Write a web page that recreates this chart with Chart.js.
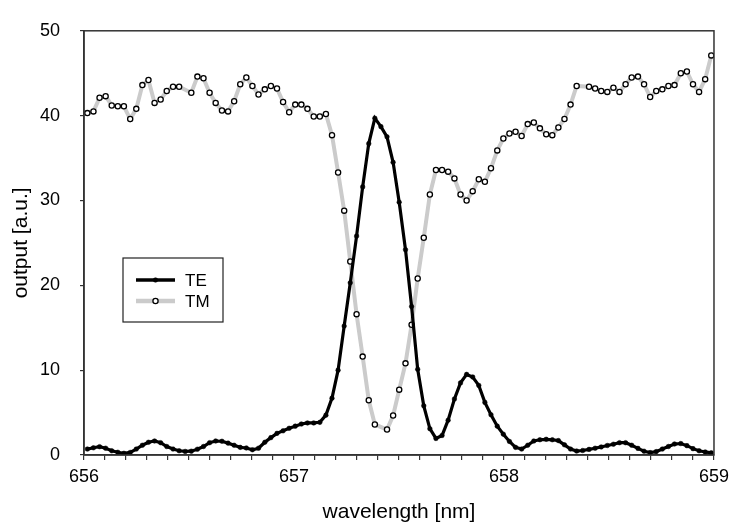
<!DOCTYPE html>
<html>
<head>
<meta charset="utf-8">
<script src="https://cdn.jsdelivr.net/npm/chart.js@4.4.0/dist/chart.umd.min.js"></script>
<style>
  html, body { margin: 0; padding: 0; background: #fff; }
  #wrap { width: 735px; height: 526px; }
</style>
</head>
<body>
<div id="wrap"><canvas id="spectrum" width="735" height="526"></canvas></div>
<script>
// wavelength samples [nm], shared by both polarisations
const wavelength = [
  656.016, 656.045, 656.074, 656.103, 656.132, 656.161, 656.190, 656.220, 656.249, 656.278,
  656.307, 656.336, 656.365, 656.394, 656.424, 656.453, 656.482, 656.511, 656.540, 656.569,
  656.598, 656.627, 656.657, 656.686, 656.715, 656.744, 656.773, 656.802, 656.831, 656.861,
  656.890, 656.919, 656.948, 656.977, 657.006, 657.035, 657.064, 657.094, 657.123, 657.152,
  657.181, 657.210, 657.239, 657.268, 657.298, 657.327, 657.356, 657.385, 657.414, 657.443,
  657.472, 657.501, 657.531, 657.560, 657.589, 657.618, 657.647, 657.676, 657.705, 657.734,
  657.764, 657.793, 657.822, 657.851, 657.880, 657.909, 657.938, 657.968, 657.997, 658.026,
  658.055, 658.084, 658.113, 658.142, 658.171, 658.201, 658.230, 658.259, 658.288, 658.317,
  658.346, 658.375, 658.405, 658.434, 658.463, 658.492, 658.521, 658.550, 658.579, 658.608,
  658.638, 658.667, 658.696, 658.725, 658.754, 658.783, 658.812, 658.842, 658.871, 658.900,
  658.929, 658.958, 658.987
];

// output [a.u.]
const teOutput = [
  0.7, 0.85, 0.98, 0.8, 0.5, 0.32, 0.2, 0.3, 0.7, 1.15,
  1.5, 1.65, 1.45, 1.0, 0.7, 0.5, 0.42, 0.45, 0.68, 1.0,
  1.45, 1.65, 1.62, 1.4, 1.15, 0.9, 0.83, 0.62, 0.8, 1.5,
  2.05, 2.55, 2.85, 3.15, 3.4, 3.65, 3.78, 3.78, 3.85, 4.7,
  6.7, 10.0, 15.2, 20.3, 25.8, 31.6, 36.7, 39.7, 38.7, 37.5,
  34.5, 29.8, 24.2, 17.5, 10.1, 5.8, 3.1, 1.95, 2.3, 4.1,
  6.6, 8.5, 9.5, 9.2, 8.2, 6.2, 4.75, 3.4, 2.45, 1.6,
  0.9, 0.7, 1.15, 1.65, 1.8, 1.85, 1.8, 1.7, 1.2, 0.7,
  0.47, 0.53, 0.66, 0.8, 0.95, 1.12, 1.27, 1.45, 1.45, 1.15,
  0.78, 0.45, 0.28, 0.4, 0.7, 1.0, 1.3, 1.35, 1.1, 0.75,
  0.5, 0.36, 0.26
];

const tmOutput = [
  40.3, 40.5, 42.1, 42.3, 41.2, 41.1, 41.1, 39.6, 40.8, 43.6,
  44.2, 41.5, 41.9, 42.9, 43.4, 43.4, null, 42.7, 44.6, 44.4,
  42.7, 41.5, 40.6, 40.5, 41.7, 43.7, 44.5, 43.5, 42.5, 43.1,
  43.5, 43.2, 41.6, 40.4, 41.3, 41.3, 40.8, 39.9, 39.9, 40.2,
  37.7, 33.3, 28.8, 22.8, 16.6, 11.6, 6.45, 3.6, null, 3.0,
  4.65, 7.7, 10.8, 15.35, 20.8, 25.6, 30.7, 33.6, 33.6, 33.4,
  32.6, 30.7, 30.0, 31.1, 32.5, 32.2, 33.8, 35.9, 37.3, 37.9,
  38.1, 37.6, 39.0, 39.2, 38.5, 37.8, 37.7, 38.6, 39.6, 41.3,
  43.5, null, 43.4, 43.2, 42.9, 42.8, 43.3, 42.8, 43.7, 44.5,
  44.6, 43.7, 42.2, 42.9, 43.1, 43.5, 43.6, 45.0, 45.2, 43.7,
  42.8, 44.3, 47.1
];

const seriesNames = ['TE', 'TM'];
const yTicks = [0, 10, 20, 30, 40, 50];

function toPoints(ys) {
  return wavelength.map((x, i) => ({ x: x, y: ys[i] }));
}

const FONT = 'Liberation Sans, Arial, Helvetica, sans-serif';
const AXIS = '#333';

// box around the plot
const frame = {
  id: 'frame',
  afterDatasetsDraw(chart) {
    const a = chart.chartArea, c = chart.ctx;
    c.save();
    c.strokeStyle = AXIS;
    c.lineWidth = 1.5;
    c.strokeRect(a.left, a.top, a.right - a.left, a.bottom - a.top);
    c.restore();
  }
};

// legend box inside the plot, lower left
const boxLegend = {
  id: 'boxLegend',
  afterDraw(chart) {
    const c = chart.ctx;
    const bx = 123, by = 258, bw = 100, bh = 64;
    c.save();
    c.fillStyle = '#fff';
    c.fillRect(bx, by, bw, bh);
    c.strokeStyle = '#222';
    c.lineWidth = 1.2;
    c.strokeRect(bx, by, bw, bh);
    chart.data.datasets.forEach((ds, i) => {
      const y = by + 22 + i * 21;
      c.strokeStyle = ds.borderColor;
      c.lineWidth = ds.borderWidth + 0.5;
      c.beginPath();
      c.moveTo(136, y);
      c.lineTo(175, y);
      c.stroke();
      c.beginPath();
      c.arc(155.5, y, ds.pointRadius, 0, Math.PI * 2);
      c.fillStyle = ds.pointBackgroundColor;
      c.fill();
      c.lineWidth = ds.pointBorderWidth;
      c.strokeStyle = ds.pointBorderColor;
      c.stroke();
      c.fillStyle = '#000';
      c.font = '17px ' + FONT;
      c.textBaseline = 'middle';
      c.fillText(ds.label, 185, y + 1);
    });
    c.restore();
  }
};

new Chart(document.getElementById('spectrum'), {
  type: 'line',
  data: {
    datasets: [
      {
        label: seriesNames[0],
        data: toPoints(teOutput),
        borderColor: '#000',
        borderWidth: 3.2,
        pointRadius: 2.3,
        pointBackgroundColor: '#000',
        pointBorderColor: '#000',
        pointBorderWidth: 0.5,
        tension: 0
      },
      {
        label: seriesNames[1],
        data: toPoints(tmOutput),
        borderColor: '#cbcbcb',
        borderWidth: 4,
        pointRadius: 2.6,
        pointBackgroundColor: '#fff',
        pointBorderColor: '#000',
        pointBorderWidth: 1.3,
        spanGaps: true,
        tension: 0
      }
    ]
  },
  options: {
    responsive: false,
    animation: false,
    layout: { padding: { top: 11, right: 18, left: 0, bottom: 0 } },
    plugins: {
      legend: { display: false },
      tooltip: { enabled: false }
    },
    scales: {
      x: {
        type: 'linear',
        min: 656,
        max: 659,
        afterFit: s => { s.height = 71; },
        border: { display: true, color: AXIS, width: 1.5 },
        grid: { drawOnChartArea: false, drawTicks: true, tickLength: 5, color: AXIS, lineWidth: 1.2 },
        ticks: {
          stepSize: 0.1,
          autoSkip: false,
          maxRotation: 0,
          padding: 6,
          color: '#000',
          font: { family: FONT, size: 18 },
          callback: v => Math.abs(v - Math.round(v)) < 1e-6 ? String(Math.round(v)) : ''
        },
        title: {
          display: true,
          text: 'wavelength [nm]',
          color: '#000',
          font: { family: FONT, size: 21 },
          padding: { top: 0, bottom: 1 }
        }
      },
      y: {
        min: yTicks[0],
        max: yTicks[yTicks.length - 1],
        afterFit: s => { s.width = 84; },
        afterBuildTicks: s => { s.ticks = yTicks.map(v => ({ value: v })); },
        border: { display: true, color: AXIS, width: 1.5 },
        grid: { drawOnChartArea: false, drawTicks: true, tickLength: 4, color: AXIS, lineWidth: 1.2 },
        ticks: {
          padding: 20,
          color: '#000',
          font: { family: FONT, size: 18 }
        },
        title: {
          display: true,
          text: 'output [a.u.]',
          color: '#000',
          font: { family: FONT, size: 21 },
          padding: { top: 9, bottom: 0 }
        }
      }
    }
  },
  plugins: [frame, boxLegend]
});
</script>
</body>
</html>
